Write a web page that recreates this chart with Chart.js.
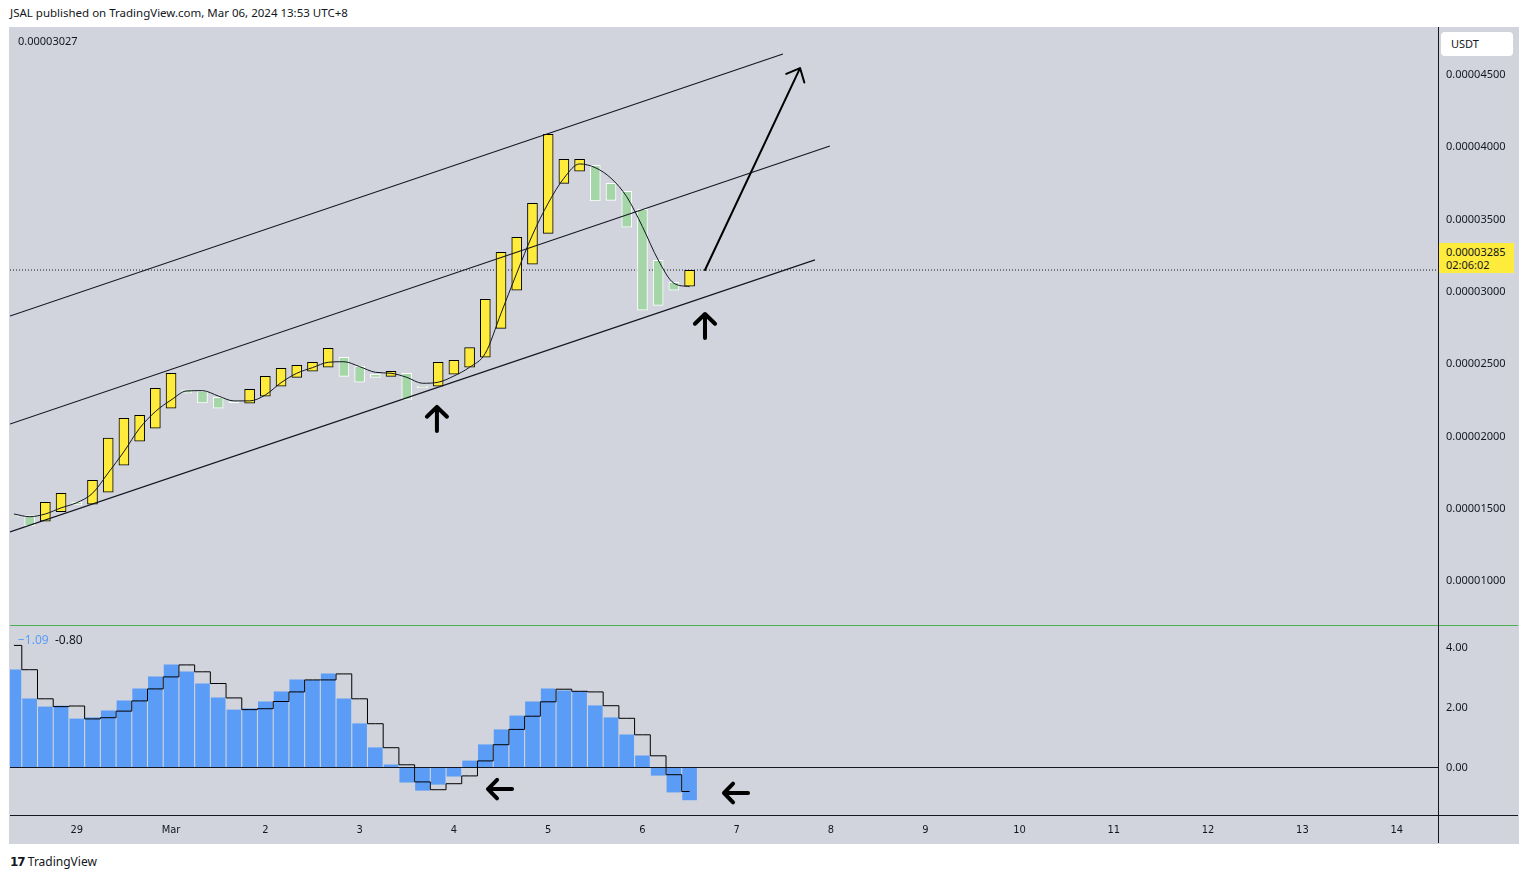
<!DOCTYPE html>
<html>
<head>
<meta charset="utf-8">
<script src="https://cdn.jsdelivr.net/npm/chart.js@4.4.1/dist/chart.umd.min.js"></script>
<style>
    body {
        margin: 0;
        width: 1528px;
        height: 879px;
        overflow: hidden;
        background: #ffffff;
        font-family: 'Noto Sans', sans-serif;
        color: #131722;
        position: relative;
    }
    .abs { position: absolute; }
    #pane { left: 9px; top: 27px; width: 1510px; height: 817px; background: #d1d4dc; }
    #header { left: 10px; top: 5px; font-size: 11.5px; }
    #priceCanvas { left: 10px; top: 27px; }
    #oscCanvas { left: 10px; top: 626px; }
    #sep { left: 10px; top: 625px; width: 1508px; height: 1px; background: #4caf50; }
    #hline { left: 10px; top: 815px; width: 1508px; height: 1px; background: #131722; }
    #vline { left: 1438px; top: 27px; width: 1px; height: 816px; background: #131722; }
    #lastVal { left: 18px; top: 33px; font-size: 11px; }
    #usdt { left: 1441px; top: 32px; width: 72px; height: 24px; background: #fff; border-radius: 4px;
            font-size: 11px; line-height: 24px; padding-left: 10px; box-sizing: border-box; }
    #priceTag { left: 1439px; top: 243px; width: 75px; height: 30px; background: #ffeb3b;
                font-size: 11px; line-height: 13px; padding: 2px 0 0 7px; box-sizing: border-box; }
    #oscLegend { left: 18px; top: 631px; font-size: 12px; }
    #logo { left: 10px; top: 853px; font-size: 12px; }
</style>
</head>
<body>
<div id="pane" class="abs"></div>
<div id="header" class="abs">JSAL published on TradingView.com, Mar 06, 2024 13:53 UTC+8</div>
<canvas id="priceCanvas" class="abs" width="1508" height="598"></canvas>
<canvas id="oscCanvas" class="abs" width="1508" height="217"></canvas>
<div id="sep" class="abs"></div>
<div id="hline" class="abs"></div>
<div id="vline" class="abs"></div>
<div id="lastVal" class="abs">0.00003027</div>
<div id="usdt" class="abs">USDT</div>
<div id="priceTag" class="abs">0.00003285<br>02:06:02</div>
<div id="oscLegend" class="abs"><span style="color:#5b9cf6">&minus;1.09</span>&nbsp;&nbsp;<span>-0.80</span></div>
<div id="logo" class="abs"><b style="font-family:'DejaVu Sans';letter-spacing:-1px">17</b> TradingView</div>
<script>
// 4h candles, index 0 = Feb 28 08:00, index 43 = Mar 6 12:00
const opens = [
    0.00001450, 0.00001452, 0.00001414, 0.00001480, 0.00001547, 0.00001531, 0.00001614, 0.00001801,
    0.00001967, 0.00002057, 0.00002195, 0.00002322, 0.00002315, 0.00002271, 0.00002246, 0.00002230,
    0.00002278, 0.00002347, 0.00002409, 0.00002451, 0.00002479, 0.00002548, 0.00002485, 0.00002430,
    0.00002416, 0.00002437, 0.00002347, 0.00002347, 0.00002430, 0.00002479, 0.00002548, 0.00002748,
    0.00003011, 0.00003191, 0.00003405, 0.00003751, 0.00003834, 0.00003876, 0.00003751, 0.00003696,
    0.00003571, 0.00003219, 0.00003066, 0.00003039,
];
const closes = [
    0.00001443, 0.00001381, 0.00001545, 0.00001607, 0.00001526, 0.00001697, 0.00001988, 0.00002126,
    0.00002147, 0.00002333, 0.00002437, 0.00002299, 0.00002232, 0.00002195, 0.00002234, 0.00002326,
    0.00002416, 0.00002472, 0.00002492, 0.00002513, 0.00002610, 0.00002416, 0.00002375, 0.00002409,
    0.00002451, 0.00002257, 0.00002338, 0.00002513, 0.00002527, 0.00002614, 0.00002949, 0.00003274,
    0.00003378, 0.00003613, 0.00004090, 0.00003917, 0.00003917, 0.00003629, 0.00003633, 0.00003447,
    0.00002873, 0.00002907, 0.00003011, 0.00003149,
];
const maLine = [
    0.00001464, 0.00001445, 0.00001464, 0.00001506, 0.00001542, 0.00001607, 0.00001748, 0.00001895,
    0.00002057, 0.00002172, 0.00002252, 0.00002315, 0.00002317, 0.00002280, 0.00002246, 0.00002246,
    0.00002287, 0.00002372, 0.00002437, 0.00002476, 0.00002513, 0.00002517, 0.00002483, 0.00002444,
    0.00002437, 0.00002409, 0.00002368, 0.00002375, 0.00002418, 0.00002479, 0.00002575, 0.00002852,
    0.00003129, 0.00003394, 0.00003613, 0.00003786, 0.00003885, 0.00003859, 0.00003786, 0.00003658,
    0.00003451, 0.00003221, 0.00003060, 0.00003036,
];
const histogram = [
    3.27, 2.30, 2.03, 2.06, 1.63, 1.67, 1.90, 2.23, 2.63, 3.03, 3.43, 3.20, 2.80, 2.33, 1.93, 1.97,
    2.20, 2.53, 2.93, 2.92, 3.13, 2.30, 1.47, 0.67, 0.10, -0.50, -0.77, -0.57, -0.30, 0.23, 0.77, 1.27,
    1.73, 2.20, 2.63, 2.57, 2.54, 2.07, 1.67, 1.10, 0.40, -0.27, -0.83, -1.09,
];
const signal = [
    4.07, 3.26, 2.29, 2.03, 2.05, 1.62, 1.66, 1.88, 2.22, 2.62, 3.02, 3.42, 3.19, 2.80, 2.32, 1.93,
    1.96, 2.20, 2.52, 2.92, 2.92, 3.12, 2.29, 1.46, 0.66, 0.09, -0.48, -0.74, -0.54, -0.28, 0.22, 0.76,
    1.27, 1.71, 2.19, 2.61, 2.54, 2.52, 2.06, 1.64, 1.09, 0.39, -0.24, -0.80,
];
const lastPriceLine = 0.00003151;

const priceTicks = [0.00001, 0.000015, 0.00002, 0.000025, 0.00003, 0.000035, 0.00004, 0.000045];
const oscTicks = [0, 2, 4];
const dateTickPos = [4, 10, 16, 22, 28, 34, 40, 46, 52, 58, 64, 70, 76, 82, 88];
const dateTickLabels = ['29', 'Mar', '2', '3', '4', '5', '6', '7', '8', '9', '10', '11', '12', '13', '14'];

// drawings: [x1, y1, x2, y2] in bar index / value
const channelLines = [
    [-0.25, 0.00002833, 48.94, 0.00004645],
    [-0.25, 0.00002086, 51.93, 0.00004009],
    [-0.25, 0.00001340, 50.98, 0.00003221],
];
const priceArrows = [
    { from: [43.98, 0.00003151], to: [50.03, 0.00004548], width: 2, head: 15, angle: 0.73 },
    { from: [26.92, 0.00002038], to: [26.92, 0.00002204], width: 4, head: 14, angle: 0.8 },
    { from: [43.98, 0.00002681], to: [43.98, 0.00002847], width: 4, head: 14, angle: 0.8 },
];
const oscArrows = [
    { from: [31.70, -0.72], to: [30.17, -0.72], width: 4, head: 13, angle: 0.8 },
    { from: [46.72, -0.85], to: [45.19, -0.85], width: 4, head: 13, angle: 0.8 },
];

const xMin = -0.25;
const xMax = 90.63;

Chart.defaults.font.family = "'Noto Sans', sans-serif";
Chart.defaults.font.size = 11;
Chart.defaults.color = '#131722';

function drawArrow(ctx, x1, y1, x2, y2, head, angle) {
    const a = Math.atan2(y1 - y2, x1 - x2);
    ctx.beginPath();
    ctx.moveTo(x1, y1);
    ctx.lineTo(x2, y2);
    ctx.moveTo(x2 + head * Math.cos(a + angle), y2 + head * Math.sin(a + angle));
    ctx.lineTo(x2, y2);
    ctx.lineTo(x2 + head * Math.cos(a - angle), y2 + head * Math.sin(a - angle));
    ctx.stroke();
}

function drawingsPlugin(lines, arrows) {
    return {
        id: 'drawings',
        afterDatasetsDraw(chart) {
            const { ctx, chartArea } = chart;
            const sx = chart.scales.x;
            const sy = chart.scales.y;
            ctx.save();
            ctx.beginPath();
            ctx.rect(chartArea.left, chartArea.top, chartArea.width, chartArea.height);
            ctx.clip();
            ctx.strokeStyle = '#131722';
            ctx.lineWidth = 1.2;
            lines.forEach((l) => {
                ctx.beginPath();
                ctx.moveTo(sx.getPixelForValue(l[0]), sy.getPixelForValue(l[1]));
                ctx.lineTo(sx.getPixelForValue(l[2]), sy.getPixelForValue(l[3]));
                ctx.stroke();
            });
            ctx.strokeStyle = '#000000';
            ctx.lineCap = 'round';
            ctx.lineJoin = 'round';
            arrows.forEach((a) => {
                ctx.lineWidth = a.width;
                drawArrow(
                    ctx,
                    sx.getPixelForValue(a.from[0]), sy.getPixelForValue(a.from[1]),
                    sx.getPixelForValue(a.to[0]), sy.getPixelForValue(a.to[1]),
                    a.head, a.angle
                );
            });
            ctx.restore();
        },
    };
}

// no extra label padding, so the plot fills its canvas exactly
function noPadding(s) {
    s.paddingTop = 0;
    s.paddingBottom = 0;
    s.paddingLeft = 0;
    s.paddingRight = 0;
}

const isUp = opens.map((o, i) => closes[i] >= o);

new Chart('priceCanvas', {
    type: 'bar',
    data: {
        datasets: [
            {
                type: 'line',
                data: [{ x: xMin, y: lastPriceLine }, { x: xMax, y: lastPriceLine }],
                borderColor: '#131722',
                borderWidth: 1,
                borderDash: [1, 2],
                pointRadius: 0,
                order: 4,
            },
            {
                data: opens.map((o, i) => ({ x: i, y: [o, closes[i]] })),
                backgroundColor: isUp.map((u) => (u ? '#ffeb3b' : '#a5d6a7')),
                borderColor: isUp.map((u) => (u ? '#000000' : '#ffffff')),
                borderWidth: 1,
                borderSkipped: false,
                barThickness: 10,
                order: 3,
            },
            {
                type: 'line',
                data: maLine.map((v, i) => ({ x: i, y: v })),
                borderColor: '#131722',
                borderWidth: 1,
                pointRadius: 0,
                cubicInterpolationMode: 'monotone',
                order: 2,
            },
        ],
    },
    options: {
        responsive: false,
        animation: false,
        devicePixelRatio: 1,
        layout: { padding: 0 },
        plugins: { legend: { display: false }, tooltip: { enabled: false } },
        scales: {
            x: { type: 'linear', min: xMin, max: xMax, offset: false, display: false },
            y: {
                position: 'right',
                min: 0.00000696,
                max: 0.00004832,
                afterFit: (s) => { s.width = 80; noPadding(s); },
                afterBuildTicks: (s) => { s.ticks = priceTicks.map((v) => ({ value: v })); },
                ticks: { padding: 8, callback: (v) => Number(v).toFixed(8) },
                grid: { display: false, drawTicks: false },
                border: { display: true, color: '#131722' },
            },
        },
    },
    plugins: [drawingsPlugin(channelLines, priceArrows)],
});

new Chart('oscCanvas', {
    type: 'bar',
    data: {
        datasets: [
            {
                data: histogram.map((v, i) => ({ x: i, y: v })),
                backgroundColor: '#5b9cf6',
                categoryPercentage: 1,
                barPercentage: 0.93,
                order: 3,
            },
            {
                type: 'line',
                data: signal.map((v, i) => ({ x: i, y: v })),
                borderColor: '#000000',
                borderWidth: 1,
                pointRadius: 0,
                stepped: 'middle',
                order: 2,
            },
        ],
    },
    options: {
        responsive: false,
        animation: false,
        devicePixelRatio: 1,
        layout: { padding: 0 },
        plugins: { legend: { display: false }, tooltip: { enabled: false } },
        scales: {
            x: {
                type: 'linear',
                min: xMin,
                max: xMax,
                offset: false,
                afterFit: (s) => { s.height = 28; noPadding(s); },
                afterBuildTicks: (s) => { s.ticks = dateTickPos.map((v) => ({ value: v })); },
                ticks: {
                    autoSkip: false,
                    maxRotation: 0,
                    padding: 9,
                    font: { family: "'DejaVu Sans Condensed', 'Noto Sans', sans-serif", size: 11 },
                    callback: (v) => dateTickLabels[dateTickPos.indexOf(v)],
                },
                grid: { display: false, drawTicks: false },
                border: { display: true, color: '#131722' },
            },
            y: {
                position: 'right',
                min: -1.583,
                max: 4.717,
                afterFit: (s) => { s.width = 80; noPadding(s); },
                afterBuildTicks: (s) => { s.ticks = oscTicks.map((v) => ({ value: v })); },
                ticks: { padding: 8, callback: (v) => Number(v).toFixed(2) },
                grid: {
                    drawTicks: false,
                    color: (c) => (c.tick && c.tick.value === 0 ? '#131722' : 'rgba(0,0,0,0)'),
                },
                border: { display: true, color: '#131722' },
            },
        },
    },
    plugins: [drawingsPlugin([], oscArrows)],
});
</script>
</body>
</html>
